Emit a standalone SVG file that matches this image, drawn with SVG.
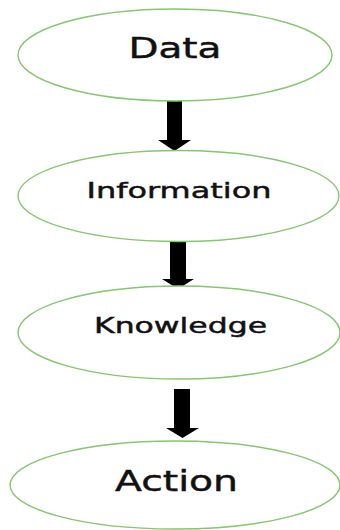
<svg xmlns="http://www.w3.org/2000/svg" width="340" height="530" viewBox="0 0 340 530">
<style>
.node ellipse{fill:#ffffff;stroke:#86c571;stroke-width:1.4}
.node text{font-family:"DejaVu Sans",Verdana,sans-serif;fill:#111111;stroke:#111111;stroke-width:0.45;text-anchor:middle}
.arrow{fill:#000000}
</style>
<rect width="340" height="530" fill="#ffffff"/>
<g id="connectors">
<polygon class="arrow" points="167,100 182,100 182,140 191,140 174.5,151 158,140 167,140"/>
<polygon class="arrow" points="170,241 186,241 186,279 194,279 178,289 162,279 170,279"/>
<polygon class="arrow" points="174,389 190,389 190,428 199,428 182.5,438 166,428 174,428"/>
</g>
<g id="node-data" class="node">
<ellipse cx="175" cy="55" rx="157" ry="46"/>
<text x="175" y="58.3" font-size="27.5" textLength="93" lengthAdjust="spacingAndGlyphs">Data</text>
</g>
<g id="node-information" class="node">
<ellipse cx="178.5" cy="196" rx="160.5" ry="45.5"/>
<text x="179" y="198.3" font-size="22" textLength="185" lengthAdjust="spacingAndGlyphs">Information</text>
</g>
<g id="node-knowledge" class="node">
<ellipse cx="179" cy="332.5" rx="161" ry="46.5"/>
<text x="180.5" y="332.7" font-size="21.5" textLength="173" lengthAdjust="spacingAndGlyphs">Knowledge</text>
</g>
<g id="node-action" class="node">
<ellipse cx="175" cy="485" rx="165" ry="44"/>
<text x="176.5" y="491" font-size="29" textLength="123" lengthAdjust="spacingAndGlyphs">Action</text>
</g>
</svg>
